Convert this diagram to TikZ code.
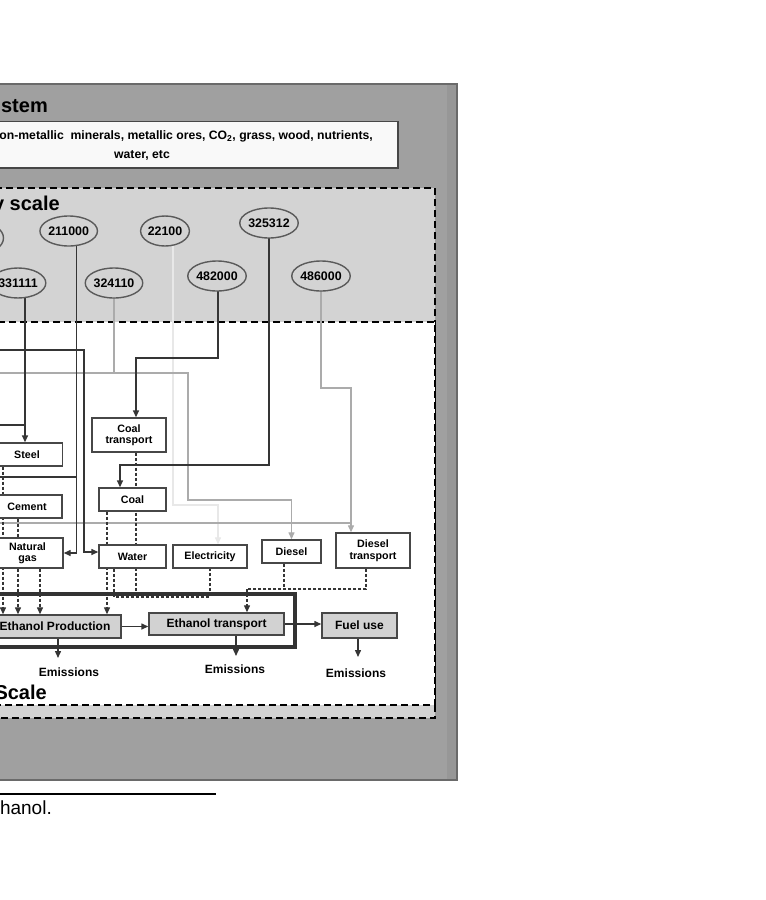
\documentclass[tikz,border=0pt]{standalone}
\usepackage{fontspec}
\setmainfont{Liberation Sans}
\usetikzlibrary{calc,arrows.meta,shapes.geometric}
\definecolor{outergray}{HTML}{A0A0A0}
\definecolor{outerstrip}{HTML}{979797}
\definecolor{outeredge}{HTML}{6A6A6A}
\definecolor{econgray}{HTML}{D3D3D3}
\definecolor{procgray}{HTML}{D2D2D2}
\definecolor{bordergray}{HTML}{474747}
\definecolor{ellborder}{HTML}{5A5A5A}
\definecolor{darkline}{HTML}{353535}
\definecolor{lightline}{HTML}{ABABAB}
\definecolor{faintline}{HTML}{E8E8E8}
\definecolor{resfill}{HTML}{F9F9F9}
\pgfdeclarelayer{back}
\pgfdeclarelayer{lines}
\pgfsetlayers{back,lines,main}
\begin{document}
\begin{tikzpicture}[x=1pt,y=-1pt,
  naics/.style={ellipse,draw=ellborder,line width=1.4pt,fill=econgray,minimum width=44pt,minimum height=30pt,inner sep=0pt,font=\bfseries\fontsize{12.4}{12}\selectfont},
  procbox/.style={rectangle,draw=bordergray,line width=1.4pt,fill=white,inner sep=0pt,align=center,font=\bfseries\fontsize{10.7}{11.5}\selectfont},
  mainbox/.style={rectangle,draw=bordergray,line width=1.4pt,fill=procgray,inner sep=0pt,font=\bfseries\fontsize{12}{12}\selectfont},
  emis/.style={inner sep=0pt,font=\bfseries\fontsize{12}{12}\selectfont},
  heading/.style={inner sep=0pt,font=\bfseries\fontsize{20}{20}\selectfont},
  restext/.style={inner sep=0pt,font=\bfseries\fontsize{12.2}{12}\selectfont},
  dk/.style={draw=darkline,line width=1.4pt},
  lt/.style={draw=lightline,line width=1.3pt},
  ft/.style={draw=faintline,line width=1.3pt},
  ds/.style={draw=darkline,line width=1.25pt,dash pattern=on 3pt off 2pt},
  arr/.style={-{Triangle[length=7pt,width=6pt]}},
  regionline/.style={line width=2pt,dash pattern=on 7pt off 4pt},
]
\useasboundingbox (0,0) rectangle (766,900);
\begin{pgfonlayer}{back}
  \fill[white] (0,0) rectangle (766,900);
  \fill[outergray] (-30,84) rectangle (457,780);
  \fill[outerstrip] (447,84) rectangle (457,780);
  \draw[draw=outeredge,line width=1.2pt] (-30,84) rectangle (457,780);
  \draw[fill=econgray,regionline] (-30,188) rectangle (435,718);
  \draw[fill=white,regionline] (-30,322) rectangle (435,705);
  \draw[fill=resfill,draw=bordergray,line width=1.1pt] (-130,121.5) rectangle (398,168);
\end{pgfonlayer}

% headings and resource text
\node[heading,anchor=base east] (ttlsys) at (48,112) {stem};
\node[restext,anchor=east] (res1) at (373,136.5) {on-metallic\ \ minerals, metallic ores, CO\textsubscript{2}, grass, wood, nutrients,};
\node[restext] (res2) at (142,155) {water, etc};
\node[heading,anchor=base east] (ttlecon) at (60,210) {y scale};
\node[heading,anchor=base east] (ttlproc) at (47,699) {Scale};

% economy sectors
\node[naics] (eleft) at (-18.5,238) {};
\node[naics] (e211) at (68.7,231) {211000};
\node[naics] (e221) at (165,231) {22100};
\node[naics] (e325) at (269,223) {325312};
\node[naics] (e331) at (18,283) {331111};
\node[naics] (e324) at (114,283) {324110};
\node[naics] (e482) at (217,276) {482000};
\node[naics] (e486) at (321,276) {486000};

% process boxes
\node[procbox,minimum width=71pt,minimum height=23pt] (steel) at (27,454.5) {Steel};
\node[procbox,minimum width=70pt,minimum height=23pt] (cement) at (27,506.5) {Cement};
\node[procbox,minimum width=71pt,minimum height=30pt] (natgas) at (27.5,553) {Natural\\gas};
\node[procbox,minimum width=74pt,minimum height=34pt] (coaltr) at (129,435) {Coal\\transport};
\node[procbox,minimum width=67pt,minimum height=23pt] (coal) at (132.5,499.5) {Coal};
\node[procbox,minimum width=67pt,minimum height=23pt] (water) at (132.5,556.5) {Water};
\node[procbox,minimum width=74pt,minimum height=23pt] (elec) at (210,556.5) {Electricity};
\node[procbox,minimum width=59pt,minimum height=23pt] (diesel) at (291.5,551.5) {Diesel};
\node[procbox,minimum width=74pt,minimum height=35pt] (dieseltr) at (373,550.5) {Diesel\\transport};
\node[mainbox,minimum width=132pt,minimum height=23pt] (ethprod) at (55,626.5) {Ethanol Production};
\node[mainbox,minimum width=135pt,minimum height=22pt] (ethtr) at (216.5,624) {Ethanol transport};
\node[mainbox,minimum width=75pt,minimum height=25pt] (fueluse) at (359.5,625.5) {Fuel use};
\node[emis] (em1) at (69,672) {Emissions};
\node[emis] (em2) at (235,669) {Emissions};
\node[emis] (em3) at (356,673) {Emissions};

% named points
\coordinate (c331) at ($(e331.center)+(7,0)$);
\coordinate (c211) at ($(e211.center)+(8,0)$);
\coordinate (c221) at ($(e221.center)+(8,0)$);
\coordinate (c324) at (e324.center);
\coordinate (c482) at ($(e482.center)+(1,0)$);
\coordinate (c325) at (e325.center);
\coordinate (c486) at (e486.center);
\coordinate (srcA) at (-10,350);
\coordinate (srcB) at (-10,373);
\coordinate (srcC) at (-10,425);
\coordinate (srcD) at (-10,477);
\coordinate (srcE) at (-10,523);
\coordinate (bWater) at (84,350);
\coordinate (bDiesel) at (188,373);
\coordinate (bDiesel2) at (188,500);
\coordinate (b482) at (218,358);
\coordinate (b325) at (269,465);
\coordinate (b486) at (321,388);
\coordinate (b221) at (173,505);
\coordinate (coaltrIn) at ($(coaltr.north)+(7,0)$);
\coordinate (coalIn) at ($(coal.north)+(-12.5,0)$);
\coordinate (elecIn) at ($(elec.north)+(8,0)$);
\coordinate (dtIn) at ($(dieseltr.north)+(-22,0)$);
\coordinate (waterIn) at ($(water.west)+(0,-4.5)$);
\coordinate (oSteel) at ($(steel.south)+(-24,0)$);
\coordinate (oCement) at ($(cement.south)+(-9,0)$);
\coordinate (oNat) at ($(natgas.south)+(12.5,0)$);
\coordinate (oCoal) at ($(coal.south)+(-25.5,0)$);
\coordinate (oCoaltr) at ($(coaltr.south)+(7,0)$);
\coordinate (oWater) at ($(water.south)+(-18.5,0)$);
\coordinate (oElec) at (elec.south);
\coordinate (busA) at (136,597);
\coordinate (oDiesel) at ($(diesel.south)+(-7.5,0)$);
\coordinate (oDt) at ($(dieseltr.south)+(-7,0)$);
\coordinate (busB) at (247,589);
\coordinate (emA) at (58,658);
\coordinate (emB) at (236,656);
\coordinate (emC) at (358,657);

\begin{pgfonlayer}{lines}
  % light economy links
  \draw[ft,arr] (c221) -- (b221) -| (elecIn);
  \draw[lt] (c324) -- (c324 |- bDiesel);
  \draw[lt,arr] (srcB) -- (bDiesel) -- (bDiesel2) -| (diesel.north);
  \draw[lt] (srcE) -- (srcE -| dtIn);
  \draw[lt,arr] (c486) -- (b486) -| (dtIn);
  % dark economy links
  \draw[dk,arr] (c331) -- (c331 |- steel.north);
  \draw[dk] (srcC) -- (srcC -| c331);
  \draw[dk,arr] (c211) |- (natgas.east);
  \draw[dk] (srcD) -- (srcD -| c211);
  \draw[dk,arr] (srcA) -- (bWater) |- (waterIn);
  \draw[dk,arr] (c482) -- (b482) -| (coaltrIn);
  \draw[dk,arr] (c325) -- (b325) -| (coalIn);
  % dashed process flows
  \draw[ds,arr] (oSteel) -- (oSteel |- ethprod.north);
  \draw[ds,arr] (oCement) -- (oCement |- ethprod.north);
  \draw[ds,arr] (oNat) -- (oNat |- ethprod.north);
  \draw[ds,arr] (oCoal) -- (oCoal |- ethprod.north);
  \draw[ds] (oCoaltr) -- (oCoaltr |- busA);
  \draw[ds] (oWater) |- (busA -| oElec) -- (oElec);
  \draw[ds] (oDiesel) -- (oDiesel |- busB);
  \draw[ds] (oDt) |- (busB);
  \draw[ds,arr] (busB) -- (busB |- ethtr.north);
  % main chain
  \draw[dk,arr] (ethprod.east) -- (ethprod.east -| ethtr.west);
  \draw[dk,arr] (ethtr.east) -- (ethtr.east -| fueluse.west);
  \draw[dk,arr] (emA |- ethprod.south) -- (emA);
  \draw[dk,arr] (emB |- ethtr.south) -- (emB);
  \draw[dk,arr] (emC |- fueluse.south) -- (emC);
  % system boundary
  \draw[line width=3.2pt,draw=black!80] (-30,594) rectangle (295,647);
\end{pgfonlayer}

% footnote
\draw[line width=2pt] (-10,794) -- (216,794);
\node[anchor=base east,inner sep=0pt,font=\fontsize{19}{19}\selectfont] (foot) at (52,814) {hanol.};
\end{tikzpicture}
\end{document}
